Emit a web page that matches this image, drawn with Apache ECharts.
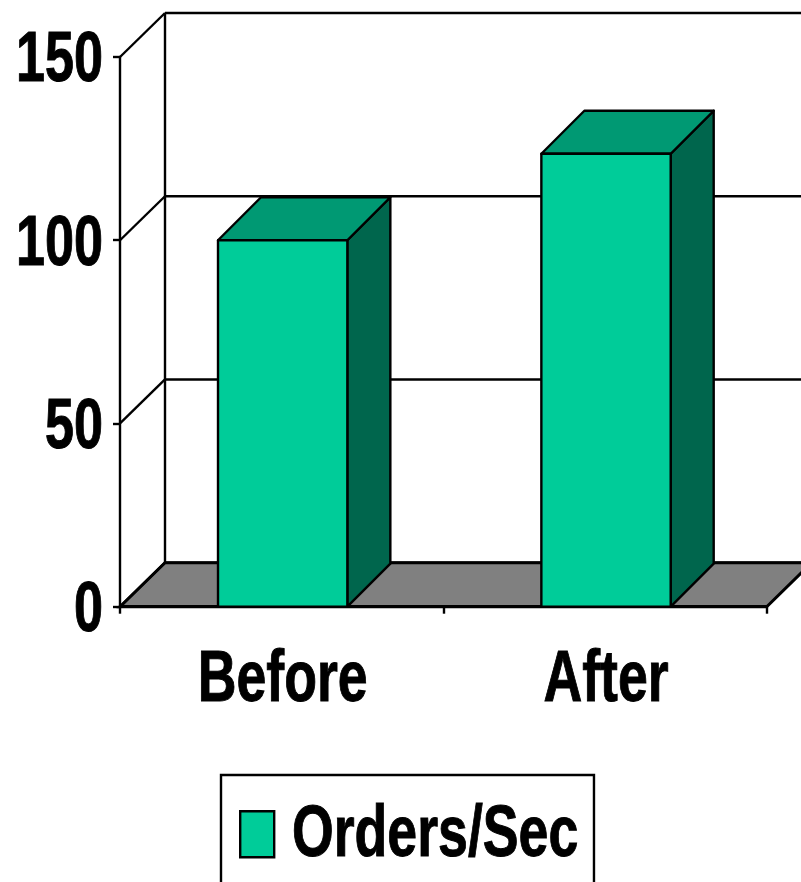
<!DOCTYPE html>
<html>
<head>
<meta charset="utf-8">
<style>
  html, body { margin: 0; padding: 0; background: #fff; overflow: hidden; }
  #chart { width: 801px; height: 882px; }
</style>
<script src="https://cdn.jsdelivr.net/npm/echarts@6/dist/echarts.min.js"></script>
</head>
<body>
<div id="chart"></div>
<script>
const categories = ['Before', 'After'];
const ordersPerSec = [100, 123.6];
const yTicks = [0, 50, 100, 150];
const seriesName = 'Orders/Sec';

const FONT = '"Liberation Sans", Arial, sans-serif';
const NARROW = 0.745;
const WALL_DX = 45;
const WALL_DY = 44;
const BAR_DEPTH = 43;
const BAR_SHIFT = 1;
const INK = '#000';
const FRONT = '#00CC99';
const TOP = '#009973';
const SIDE = '#00664D';
const FLOOR = '#808080';

const chart = echarts.init(document.getElementById('chart'), null, { renderer: 'canvas' });

// Back wall, side wall and floor of the box around the plot.
function renderWalls(params, api) {
  const rect = params.coordSys;
  const value = api.value(0);
  const y = api.coord([0, value])[1];
  const left = rect.x;
  const right = rect.x + rect.width;
  const lineStyle = { stroke: INK, lineWidth: 2.4, fill: null };
  const children = [
    { type: 'line', shape: { x1: left, y1: y, x2: left + WALL_DX, y2: y - WALL_DY }, style: lineStyle },
    { type: 'line', shape: { x1: left + WALL_DX, y1: y - WALL_DY, x2: right + WALL_DX, y2: y - WALL_DY }, style: lineStyle }
  ];
  if (value === 0) {
    children.unshift({
      type: 'polygon',
      shape: { points: [[left, y], [left + WALL_DX, y - WALL_DY], [right + WALL_DX, y - WALL_DY], [right, y]] },
      style: { fill: FLOOR, stroke: INK, lineWidth: 3 }
    });
    children.push({
      type: 'line',
      shape: { x1: left + WALL_DX, y1: rect.y - WALL_DY, x2: left + WALL_DX, y2: y - WALL_DY },
      style: lineStyle
    });
  }
  return { type: 'group', children };
}

// One extruded column: front face, top face and right side face.
function renderColumn(params, api) {
  const base = api.coord([api.value(0), 0]);
  const head = api.coord([api.value(0), api.value(1)]);
  const width = api.size([1, 0])[0] * 0.4;
  const x0 = base[0] - width / 2 + BAR_SHIFT;
  const x1 = base[0] + width / 2 + BAR_SHIFT;
  const yb = base[1];
  const yt = head[1];
  const edge = { stroke: INK, lineWidth: 2.4, lineJoin: 'round' };
  return {
    type: 'group',
    children: [
      {
        type: 'polygon',
        shape: { points: [[x1, yb], [x1 + BAR_DEPTH, yb - BAR_DEPTH], [x1 + BAR_DEPTH, yt - BAR_DEPTH], [x1, yt]] },
        style: Object.assign({ fill: SIDE }, edge)
      },
      {
        type: 'polygon',
        shape: { points: [[x0, yt], [x0 + BAR_DEPTH, yt - BAR_DEPTH], [x1 + BAR_DEPTH, yt - BAR_DEPTH], [x1, yt]] },
        style: Object.assign({ fill: TOP }, edge)
      },
      {
        type: 'rect',
        shape: { x: x0, y: yt, width: width, height: yb - yt },
        style: Object.assign({ fill: FRONT }, edge)
      }
    ]
  };
}

// Condensed bold text: the installed sans is narrowed horizontally around its anchor.
function narrowText(text, x, y, size, align) {
  return {
    type: 'text',
    x: x,
    y: y,
    z: 20,
    scaleX: NARROW,
    style: {
      text: text,
      fill: INK,
      stroke: INK,
      lineWidth: 1,
      fontFamily: FONT,
      fontWeight: 'bold',
      fontSize: size,
      textAlign: align,
      textVerticalAlign: 'middle'
    }
  };
}

function renderValueLabel(params, api) {
  const y = api.coord([0, api.value(0)])[1];
  return narrowText(String(api.value(0)), params.coordSys.x - 17, y + 5, 70, 'right');
}

function renderCategoryLabel(params, api) {
  const p = api.coord([api.value(0), 0]);
  return narrowText(categories[api.value(0)], p[0] + BAR_SHIFT, p[1] + 74, 72, 'center');
}

chart.setOption({
  animation: false,
  backgroundColor: '#fff',
  grid: { left: 120, top: 57, width: 646.7, height: 549.7, outerBoundsMode: 'none' },
  legend: {
    left: 221,
    top: 775,
    orient: 'horizontal',
    padding: [35, 312, 40, 18],
    backgroundColor: 'transparent',
    borderColor: INK,
    borderWidth: 2.4,
    borderRadius: 0,
    itemWidth: 34,
    itemHeight: 46,
    itemGap: 0,
    selectedMode: false,
    formatter: () => ' ',
    textStyle: { fontSize: 10, color: INK },
    data: [{ name: seriesName, icon: 'rect', itemStyle: { color: FRONT, borderColor: INK, borderWidth: 2.4 } }]
  },
  graphic: [narrowText(seriesName, 292, 836, 72, 'left')],
  xAxis: {
    type: 'category',
    data: categories,
    z: 3,
    axisLine: { lineStyle: { color: INK, width: 3 } },
    axisTick: { show: true, length: 7, lineStyle: { color: INK, width: 2.4 } },
    axisLabel: { show: false },
    splitLine: { show: false }
  },
  yAxis: {
    type: 'value',
    min: 0,
    max: 150,
    interval: 50,
    z: 3,
    axisLine: { show: true, lineStyle: { color: INK, width: 2.4 } },
    axisTick: { show: true, length: 7, lineStyle: { color: INK, width: 2.4 } },
    axisLabel: { show: false },
    splitLine: { show: false }
  },
  series: [
    {
      type: 'custom',
      coordinateSystem: 'cartesian2d',
      z: 1,
      silent: true,
      renderItem: renderWalls,
      encode: { y: 0 },
      data: yTicks.map(v => [v])
    },
    {
      name: seriesName,
      type: 'custom',
      coordinateSystem: 'cartesian2d',
      z: 4,
      itemStyle: { color: FRONT },
      renderItem: renderColumn,
      encode: { x: 0, y: 1 },
      data: categories.map((c, i) => [i, ordersPerSec[i]])
    },
    {
      type: 'custom',
      coordinateSystem: 'cartesian2d',
      z: 5,
      silent: true,
      renderItem: renderValueLabel,
      encode: { y: 0 },
      data: yTicks.map(v => [v])
    },
    {
      type: 'custom',
      coordinateSystem: 'cartesian2d',
      z: 5,
      silent: true,
      renderItem: renderCategoryLabel,
      encode: { x: 0 },
      data: categories.map((c, i) => [i])
    }
  ]
});
</script>
</body>
</html>
